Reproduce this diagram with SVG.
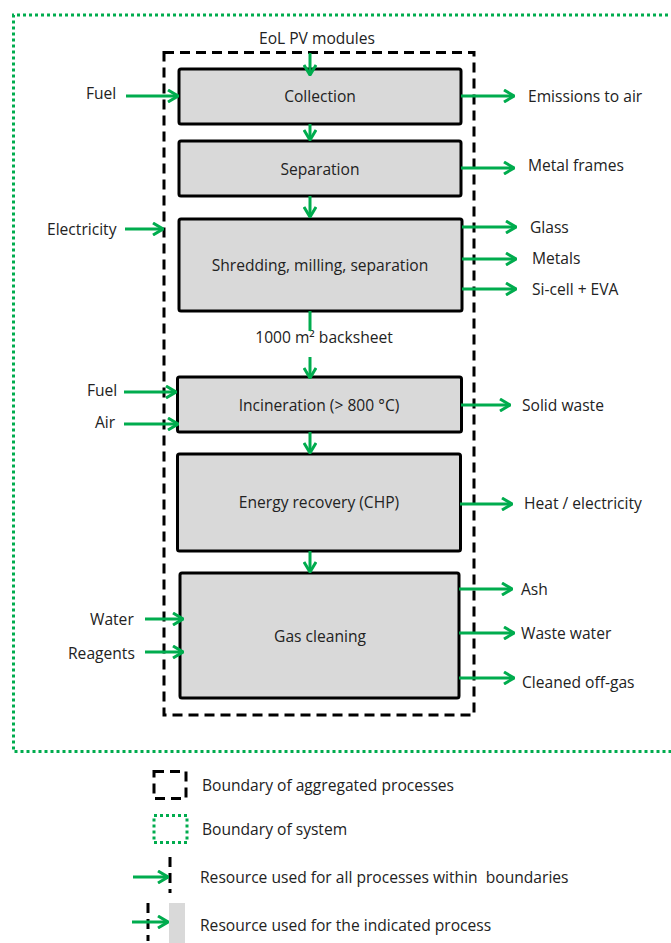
<svg xmlns="http://www.w3.org/2000/svg" width="671" height="943" viewBox="0 0 671 943">
  <defs>
    <marker id="head" viewBox="0 0 12 14" refX="11" refY="7" markerWidth="12" markerHeight="14" markerUnits="userSpaceOnUse" orient="auto">
      <path d="M1,1 L11,7 L1,13" fill="none" stroke="#00ac4e" stroke-width="3"/>
    </marker>
  </defs>
  <style>
    text { font-family: "Open Sans", "Noto Sans", "Liberation Sans", sans-serif; font-size: 15.6px; fill: #222; dominant-baseline: central; white-space: pre; }
    .box { fill: #d9d9d9; stroke: #000; stroke-width: 3; }
    .flow { stroke: #00ac4e; stroke-width: 3; fill: none; }
    .arrow { stroke: #00ac4e; stroke-width: 3; fill: none; marker-end: url(#head); }
    .agg { fill: none; stroke: #000; stroke-width: 3; stroke-dasharray: 10 6; }
    .sys { fill: none; stroke: #00ac4e; stroke-width: 3; stroke-dasharray: 3 3; }
    .mid { text-anchor: middle; }
  </style>
  <rect width="671" height="943" fill="#fff"/>

  <!-- system boundary -->
  <path class="sys" d="M680,15 L13.5,15 L13.5,751.5 L680,751.5"/>
  <!-- boundary of aggregated processes -->
  <rect class="agg" x="164" y="52.5" width="310" height="662.5"/>

  <!-- process nodes -->
  <g id="collection">
    <rect class="box" x="179" y="69" width="282" height="55" rx="2"/>
    <text class="mid" x="320" y="96">Collection</text>
  </g>
  <g id="separation">
    <rect class="box" x="179" y="141" width="282" height="55" rx="2"/>
    <text class="mid" x="320" y="169">Separation</text>
  </g>
  <g id="shredding">
    <rect class="box" x="179" y="219" width="283" height="92" rx="2"/>
    <text class="mid" x="320" y="265">Shredding, milling, separation</text>
  </g>
  <g id="incineration">
    <rect class="box" x="177.5" y="377" width="284" height="55" rx="2"/>
    <text class="mid" x="319" y="405">Incineration (&gt; 800 °C)</text>
  </g>
  <g id="energy-recovery">
    <rect class="box" x="177.5" y="454" width="283" height="97" rx="2"/>
    <text class="mid" x="319" y="502">Energy recovery (CHP)</text>
  </g>
  <g id="gas-cleaning">
    <rect class="box" x="180" y="573" width="279" height="125" rx="2"/>
    <text class="mid" x="320" y="636">Gas cleaning</text>
  </g>

  <!-- labels -->
  <g id="labels">
    <text class="mid" x="317" y="38">EoL PV modules</text>
    <text x="86" y="93">Fuel</text>
    <text x="47" y="229">Electricity</text>
    <text x="87" y="390">Fuel</text>
    <text x="95" y="422">Air</text>
    <text x="90" y="619">Water</text>
    <text x="68" y="653">Reagents</text>
    <text class="mid" x="324" y="337">1000 m² backsheet</text>
    <text x="528" y="96">Emissions to air</text>
    <text x="528" y="165">Metal frames</text>
    <text x="530" y="227">Glass</text>
    <text x="532" y="258">Metals</text>
    <text x="532" y="289">Si-cell + EVA</text>
    <text x="522" y="405">Solid waste</text>
    <text x="524" y="503">Heat / electricity</text>
    <text x="521" y="589">Ash</text>
    <text x="521" y="633">Waste water</text>
    <text x="522" y="682">Cleaned off-gas</text>
  </g>

  <!-- connectors -->
  <g id="connectors">
    <line class="arrow" x1="310" y1="53" x2="310" y2="75"/>
    <line class="arrow" x1="310" y1="124" x2="310" y2="140"/>
    <line class="arrow" x1="310" y1="196" x2="310" y2="217"/>
    <line class="flow" x1="310" y1="311" x2="310" y2="331"/>
    <line class="arrow" x1="310" y1="357" x2="310" y2="378"/>
    <line class="arrow" x1="310" y1="432" x2="310" y2="453"/>
    <line class="arrow" x1="310" y1="551" x2="310" y2="572"/>

    <line class="arrow" x1="126" y1="96" x2="178" y2="96"/>
    <line class="arrow" x1="125" y1="229" x2="163" y2="229"/>
    <line class="arrow" x1="124" y1="392" x2="176" y2="392"/>
    <line class="arrow" x1="124" y1="424" x2="178" y2="424"/>
    <line class="arrow" x1="145" y1="619" x2="183" y2="619"/>
    <line class="arrow" x1="145" y1="652" x2="183" y2="652"/>

    <line class="arrow" x1="461" y1="96" x2="514" y2="96"/>
    <line class="arrow" x1="461" y1="168" x2="514" y2="168"/>
    <line class="arrow" x1="462" y1="227" x2="516" y2="227"/>
    <line class="arrow" x1="462" y1="259" x2="516" y2="259"/>
    <line class="arrow" x1="462" y1="289" x2="516" y2="289"/>
    <line class="arrow" x1="461" y1="405" x2="510" y2="405"/>
    <line class="arrow" x1="460" y1="504" x2="512" y2="504"/>
    <line class="arrow" x1="459" y1="589" x2="512" y2="589"/>
    <line class="arrow" x1="459" y1="633" x2="514" y2="633"/>
    <line class="arrow" x1="459" y1="678" x2="514" y2="678"/>
  </g>

  <!-- legend -->
  <g id="legend">
    <rect class="agg" x="154" y="771.5" width="32" height="27" stroke-dasharray="8 6"/>
    <text x="202" y="785">Boundary of aggregated processes</text>
    <rect class="sys" x="154" y="815.5" width="33" height="27"/>
    <text x="202" y="829">Boundary of system</text>
    <line class="agg" x1="170" y1="857" x2="170" y2="893" stroke-dasharray="10 6"/>
    <line class="arrow" x1="133" y1="877" x2="168" y2="877"/>
    <text x="200" y="877">Resource used for all processes within  boundaries</text>
    <rect x="169" y="903" width="16" height="40" fill="#d9d9d9"/>
    <line class="agg" x1="148" y1="903" x2="148" y2="941" stroke-dasharray="12 6"/>
    <line class="arrow" x1="132" y1="922" x2="168" y2="922"/>
    <text x="200" y="925">Resource used for the indicated process</text>
  </g>
</svg>
